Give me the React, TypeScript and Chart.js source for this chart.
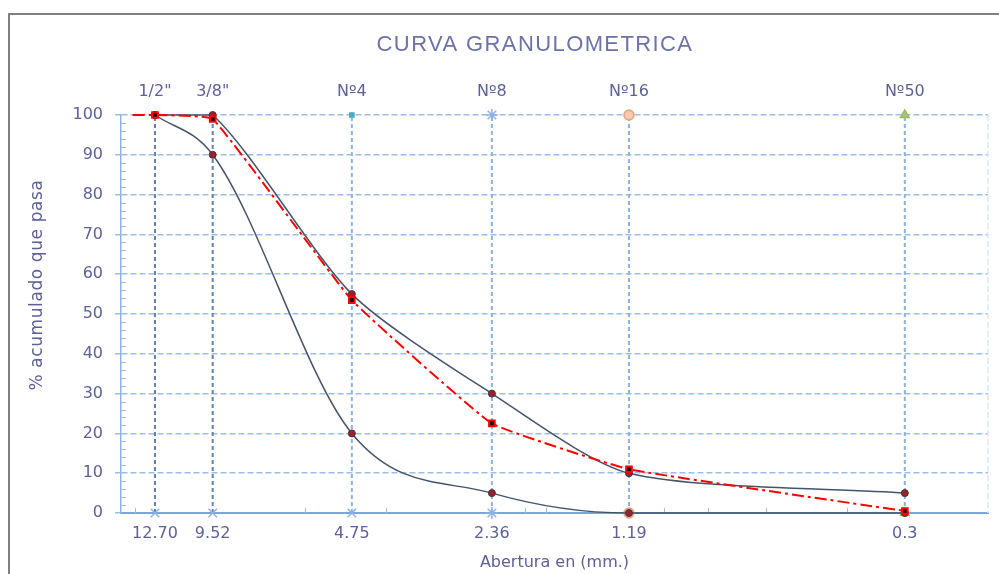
import React, { useEffect, useRef } from 'react';
import { Chart, registerables } from 'chart.js';

Chart.register(...registerables);

// ---- data ----
const chartTitle = 'CURVA GRANULOMETRICA';
const yAxisTitle = '% acumulado que pasa';
const xAxisTitle = 'Abertura en (mm.)';
const sieveSizes = [12.7, 9.52, 4.75, 2.36, 1.19, 0.3];
const sieveNames = ['1/2"', '3/8"', 'Nº4', 'Nº8', 'Nº16', 'Nº50'];
const sizeLabels = ['12.70', '9.52', '4.75', '2.36', '1.19', '0.3'];
const upperLimit = [100, 100, 55, 30, 10, 5];
const lowerLimit = [100, 90, 20, 5, 0, 0];
const sampleSizes = [14.2, 12.7, 9.52, 4.75, 2.36, 1.19, 0.3];
const samplePassing = [100, 100, 99, 53.5, 22.5, 11, 0.5];
const xMinorTicks = [14, 6, 4, 2, 1.8, 1, 0.8, 0.6, 0.4];
const xMin = 0.198;
const xMax = 15.05;

// ---- styles ----
const W = 991;
const H = 566;
const FONT = 'DejaVu Sans';
const TEXT = '#5d6199';
const GRID = '#9dbde8';
const sieveLineColors = ['#6384ae', '#6384ae', '#8db3e2', '#8db3e2', '#8db3e2', '#8db3e2'];
const bottomStyles = ['crossRot', 'crossRot', 'crossRot', 'star', 'circle', 'triangle'];
const bottomFill = ['#8db3e2', '#8db3e2', '#8db3e2', '#8db3e2', '#f7c9b0', '#a9c47f'];
const bottomStroke = ['#8db3e2', '#8db3e2', '#8db3e2', '#8db3e2', '#e9a27f', '#9bbb59'];
const bottomRadius = [6, 6, 6, 6, 5, 5];
const topStyles = ['crossRot', 'crossRot', 'rect', 'star', 'circle', 'triangle'];
const topFill = ['#8db3e2', '#8db3e2', '#4bacc6', '#8db3e2', '#f7c9b0', '#a9c47f'];
const topStroke = ['#8db3e2', '#8db3e2', '#4bacc6', '#8db3e2', '#e9a27f', '#9bbb59'];
const topRadius = [0, 0, 3, 6, 5, 5];

const decor = {
  id: 'decor',
  beforeDraw(chart: any) {
    const { ctx } = chart;
    ctx.save();
    ctx.strokeStyle = '#7f7f7f';
    ctx.lineWidth = 2;
    ctx.strokeRect(1, 6, 3000, 3000);
    ctx.restore();
  },
  beforeDatasetsDraw(chart: any) {
    const { ctx, chartArea: a, scales } = chart;
    const x = scales.x;
    const y = scales.y;
    ctx.save();
    ctx.strokeStyle = '#dce7f6';
    ctx.lineWidth = 1.5;
    ctx.setLineDash([6, 3]);
    ctx.beginPath();
    ctx.moveTo(a.right, a.top);
    ctx.lineTo(a.right, a.bottom);
    ctx.stroke();
    ctx.setLineDash([]);
    ctx.strokeStyle = GRID;
    ctx.lineWidth = 1;
    ctx.beginPath();
    for (let v = 2; v < 100; v += 2) {
      if (v % 10 === 0) continue;
      const py = Math.round(y.getPixelForValue(v)) + 0.5;
      ctx.moveTo(a.left, py);
      ctx.lineTo(a.left + 5, py);
    }
    for (const v of xMinorTicks) {
      const px = Math.round(x.getPixelForValue(v)) + 0.5;
      ctx.moveTo(px, a.bottom);
      ctx.lineTo(px, a.bottom - 5);
    }
    ctx.stroke();
    ctx.restore();
  },
  afterDraw(chart: any) {
    const { ctx } = chart;
    ctx.save();
    ctx.font = '22px "Liberation Sans"';
    (ctx as any).letterSpacing = '1.4px';
    ctx.fillStyle = '#6e72a6';
    ctx.textAlign = 'center';
    ctx.textBaseline = 'middle';
    ctx.fillText(chartTitle, 527, 37);
    (ctx as any).letterSpacing = '0.6px';
    ctx.font = `17px "${FONT}"`;
    ctx.fillStyle = TEXT;
    ctx.translate(30, 277);
    ctx.rotate(-Math.PI / 2);
    ctx.fillText(yAxisTitle, 0, 0);
    ctx.restore();
  },
};

export default function App() {
  const ref = useRef<HTMLCanvasElement | null>(null);

  useEffect(() => {
    if (!ref.current) return;

    const curveStyle = {
      borderColor: '#44546a',
      borderWidth: 1.5,
      pointRadius: 3.5,
      pointBackgroundColor: '#a01e2e',
      pointBorderColor: '#3a3a3a',
      pointBorderWidth: 1,
      clip: false as const,
      fill: false,
    };

    const datasets: any[] = [
      {
        label: 'Muestra',
        data: sampleSizes.map((s, i) => ({ x: s, y: samplePassing[i] })),
        borderColor: '#ff0000',
        borderWidth: 2,
        borderDash: [12, 4, 3, 4],
        tension: 0.1,
        pointStyle: 'rect',
        pointRadius: sampleSizes.map((_, i) => (i === 0 ? 0 : 4)),
        pointBackgroundColor: '#111111',
        pointBorderColor: '#ff0000',
        pointBorderWidth: 2,
        clip: false,
        fill: false,
      },
      {
        label: 'Límite superior',
        data: sieveSizes.map((s, i) => ({ x: s, y: upperLimit[i] })),
        ...curveStyle,
        tension: 0.25,
      },
      {
        label: 'Límite inferior',
        data: sieveSizes.map((s, i) => ({ x: s, y: lowerLimit[i] })),
        ...curveStyle,
        cubicInterpolationMode: 'monotone',
      },
      ...sieveSizes.map((s, i) => ({
        label: sieveNames[i],
        data: [
          { x: s, y: 0 },
          { x: s, y: 100 },
        ],
        borderColor: sieveLineColors[i],
        borderWidth: 2,
        borderDash: [4, 3],
        tension: 0,
        pointStyle: [bottomStyles[i], topStyles[i]],
        pointRadius: [bottomRadius[i], topRadius[i]],
        pointBackgroundColor: [bottomFill[i], topFill[i]],
        pointBorderColor: [bottomStroke[i], topStroke[i]],
        pointBorderWidth: 1.5,
        clip: false,
        fill: false,
      })),
    ];

    const chart = new Chart(ref.current, {
      type: 'line',
      data: { datasets },
      plugins: [decor],
      options: {
        responsive: false,
        animation: false,
        events: [],
        layout: { padding: { left: 0, right: 11, top: 0, bottom: 0 } },
        plugins: {
          legend: { display: false },
          tooltip: { enabled: false },
          title: { display: false },
        },
        scales: {
          x: {
            type: 'logarithmic',
            position: 'bottom',
            reverse: true,
            min: xMin,
            max: xMax,
            afterBuildTicks: (s: any) => {
              s.ticks = sieveSizes.map((v) => ({ value: v }));
            },
            afterFit: (s: any) => {
              s.height = 61;
            },
            ticks: {
              autoSkip: false,
              maxRotation: 0,
              padding: 11,
              color: TEXT,
              font: { family: FONT, size: 16 },
              callback: (_v: any, i: number) => sizeLabels[i],
            },
            grid: { display: false, drawTicks: false },
            border: { display: true, color: '#7aa6da', width: 2 },
            title: {
              display: true,
              text: xAxisTitle,
              color: TEXT,
              font: { family: FONT, size: 16 },
              padding: { top: 0, bottom: 2 },
            },
          },
          x2: {
            type: 'logarithmic',
            position: 'top',
            reverse: true,
            min: xMin,
            max: xMax,
            afterBuildTicks: (s: any) => {
              s.ticks = sieveSizes.map((v) => ({ value: v }));
            },
            afterFit: (s: any) => {
              s.height = 107;
            },
            ticks: {
              autoSkip: false,
              maxRotation: 0,
              padding: 14,
              color: TEXT,
              font: { family: FONT, size: 16 },
              callback: (_v: any, i: number) => sieveNames[i],
            },
            grid: { display: false, drawTicks: false },
            border: { display: false },
          },
          y: {
            type: 'linear',
            min: 0,
            max: 100,
            afterFit: (s: any) => {
              s.width = 113;
            },
            ticks: {
              stepSize: 10,
              padding: 12,
              color: TEXT,
              font: { family: FONT, size: 16 },
            },
            grid: {
              color: GRID,
              lineWidth: 1.5,
              tickLength: 6,
              tickColor: GRID,
            },
            border: { display: true, color: '#8db3e2', width: 1.5, dash: [6, 3] },
            title: { display: false },
          },
        },
      } as any,
    });

    return () => chart.destroy();
  }, []);

  return (
    <div style={{ position: 'fixed', left: 8, top: 8, width: W, height: H }}>
      <canvas ref={ref} width={W} height={H} style={{ display: 'block', width: W, height: H }} />
    </div>
  );
}
